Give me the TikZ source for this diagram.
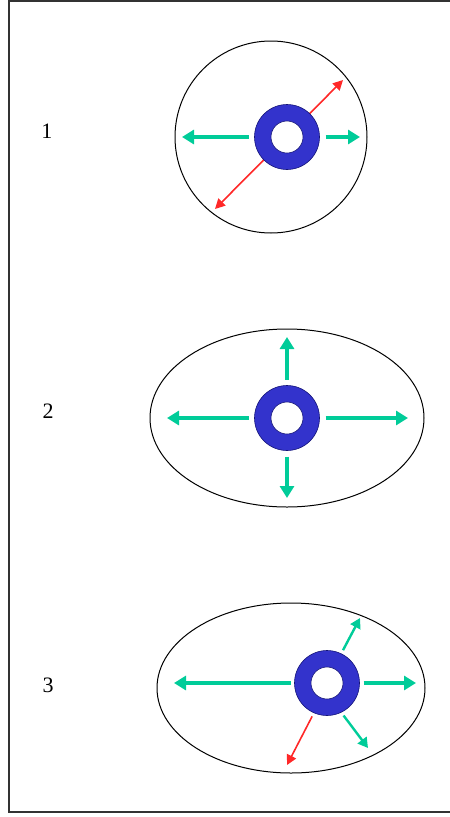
\documentclass[tikz,border=0pt]{standalone}
\usepackage{fontspec}
\setmainfont{Liberation Serif}
\usepackage{tikz}
\usetikzlibrary{arrows.meta, positioning}
\definecolor{flowgreen}{RGB}{0,204,153}
\definecolor{ringblue}{RGB}{51,51,204}
\definecolor{ringedge}{RGB}{20,20,120}
\definecolor{shearred}{RGB}{255,40,40}

\begin{document}
\begin{tikzpicture}[x=1pt, y=-1pt,
    ring/.style = {circle, fill=ringblue, draw=ringedge, line width=0.6pt, minimum size=65pt, inner sep=0pt, outer sep=6pt,
        path picture={\fill[white, draw=ringedge, line width=0.6pt] (path picture bounding box.center) circle (16pt);}},
    flowthick/.style = {draw=flowgreen, line width=4pt, -{Triangle[length=12pt, width=14pt]}},
    flowthin/.style = {draw=flowgreen, line width=2.4pt, -{Triangle[length=10pt, width=11pt]}},
    shear/.style = {draw=shearred, line width=1.6pt, -{Triangle[length=10pt, width=10pt]}},
    boundary/.style = {draw=black, line width=1pt},
    caselabel/.style = {font=\fontsize{22}{26}\selectfont, inner sep=0pt}
]
\useasboundingbox (0,0) rectangle (450,817);

% Frame
\draw [black!80, line width=1.6pt] (452,1) -- (9,1) -- (9,812) -- (452,812);

% Labels
\node (lab1) [caselabel] at (47,131) {1};
\node (lab2) [caselabel] at (48,411) {2};
\node (lab3) [caselabel] at (48,685) {3};

% Case 1: circle
\draw [boundary] (271,137) circle [radius=96];
\coordinate (c1ne) at (343,80);
\coordinate (c1sw) at (215,209);
\draw [shear, {Triangle[length=10pt, width=10pt]}-{Triangle[length=10pt, width=10pt]}] (c1sw) -- (c1ne);
\node (ring1) [ring] at (287,137) {};
\coordinate (c1w) at (182,137);
\coordinate (c1e) at (360,137);
\draw [flowthick] (ring1.west) -- (c1w);
\draw [flowthick] (ring1.east) -- (c1e);

% Case 2: ellipse, centred
\draw [boundary] (287,418) ellipse [x radius=137, y radius=89];
\node (ring2) [ring] at (287,418) {};
\coordinate (c2n) at (287,337);
\coordinate (c2s) at (287,498);
\coordinate (c2w) at (167,418);
\coordinate (c2e) at (408,418);
\draw [flowthick] (ring2.north) -- (c2n);
\draw [flowthick] (ring2.south) -- (c2s);
\draw [flowthick] (ring2.west) -- (c2w);
\draw [flowthick] (ring2.east) -- (c2e);

% Case 3: ellipse, off-centre
\draw [boundary] (291,688) ellipse [x radius=134, y radius=85];
\node (ring3) [ring, outer sep=4pt] at (327,683) {};
\coordinate (c3w) at (174,683);
\coordinate (c3e) at (416,683);
\coordinate (c3ne) at (360,618);
\coordinate (c3se) at (368,748);
\coordinate (c3sw) at (287,765);
\draw [flowthick] (ring3.west) -- (c3w);
\draw [flowthick] (ring3.east) -- (c3e);
\draw [flowthin] (ring3.64) -- (c3ne);
\draw [flowthin] (ring3.-63) -- (c3se);
\draw [shear] (ring3.-114) -- (c3sw);

\end{tikzpicture}
\end{document}
